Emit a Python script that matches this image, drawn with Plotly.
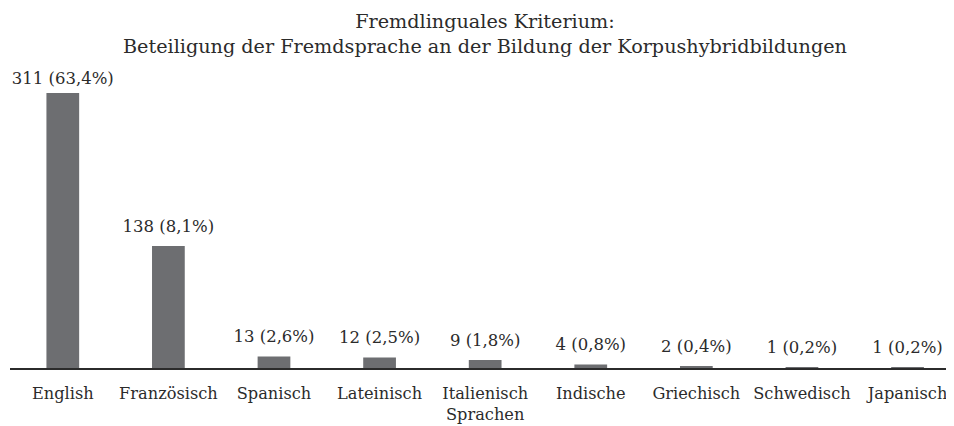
import plotly.graph_objects as go

categories = ["English", "Französisch", "Spanisch", "Lateinisch", "Italienisch<br>Sprachen",
              "Indische", "Griechisch", "Schwedisch", "Japanisch"]
counts = [311, 138, 13, 12, 9, 4, 2, 1, 1]
percent_labels = ["63,4%", "8,1%", "2,6%", "2,5%", "1,8%", "0,8%", "0,4%", "0,2%", "0,2%"]

labels = [f"{c} ({p})" for c, p in zip(counts, percent_labels)]
FONT = "DejaVu Serif"
xs = list(range(len(categories)))

fig = go.Figure()
fig.add_trace(go.Bar(
    x=xs,
    y=counts,
    width=0.31,
    marker=dict(color="#6d6e71", line=dict(width=0)),
    hoverinfo="skip",
))
fig.add_trace(go.Scatter(
    x=xs,
    y=counts,
    mode="markers+text",
    text=labels,
    textposition="top center",
    marker=dict(size=[7] + [15] * (len(counts) - 1), opacity=0, line=dict(width=0)),
    textfont=dict(family=FONT, size=16.5, color="#2b2b2b"),
    cliponaxis=False,
    hoverinfo="skip",
))
fig.update_layout(
    width=954, height=426,
    margin=dict(l=2, r=8, t=52, b=66, autoexpand=False),
    paper_bgcolor="white", plot_bgcolor="white",
    showlegend=False,
    title=dict(
        text="Fremdlinguales Kriterium:<br>Beteiligung der Fremdsprache an der Bildung der Korpushybridbildungen",
        x=0.5, xanchor="center", y=0.953, yanchor="top", yref="container",
        font=dict(family=FONT, size=19.2, color="#2b2b2b"),
    ),
    xaxis=dict(
        tickmode="array", tickvals=xs, ticktext=categories,
        range=[-0.5, 8.44], showgrid=False, zeroline=False,
        showline=True, linecolor="#2b2b2b", linewidth=1.5,
        ticks="", ticklabelstandoff=10, automargin=False,
        tickfont=dict(family=FONT, size=16.2, color="#2b2b2b"),
    ),
    yaxis=dict(range=[0, 348.4], visible=False, showgrid=False, zeroline=False, automargin=False),
)
fig.write_html("out.html")
